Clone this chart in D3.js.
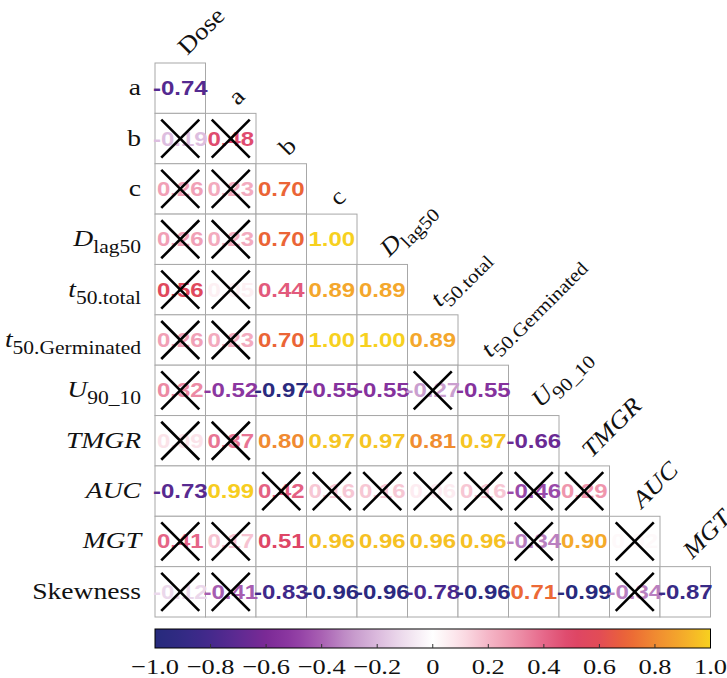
<!DOCTYPE html>
<html>
<head>
<meta charset="utf-8">
<script src="https://cdn.jsdelivr.net/npm/d3@7"></script>
<style>
  html, body { margin: 0; padding: 0; background: #fff; }
  svg { display: block; }
</style>
</head>
<body>
<svg id="chart" width="727" height="678"></svg>
<script>
// Variables of the lower-triangular correlation matrix
const rowVars = ["a", "b", "c", "Dlag50", "t50.total", "t50.Germinated", "U90_10", "TMGR", "AUC", "MGT", "Skewness"];
const colVars = ["Dose", "a", "b", "c", "Dlag50", "t50.total", "t50.Germinated", "U90_10", "TMGR", "AUC", "MGT"];

// Correlation coefficients, one array per row (columns Dose ... up to the diagonal)
const corrA        = [-0.74];
const corrB        = [-0.19, 0.48];
const corrC        = [0.26, 0.23, 0.70];
const corrDlag     = [0.26, 0.23, 0.70, 1.00];
const corrT50Tot   = [0.56, 0.05, 0.44, 0.89, 0.89];
const corrT50Germ  = [0.26, 0.23, 0.70, 1.00, 1.00, 0.89];
const corrU        = [0.32, -0.52, -0.97, -0.55, -0.55, -0.27, -0.55];
const corrTMGR     = [0.09, 0.37, 0.80, 0.97, 0.97, 0.81, 0.97, -0.66];
const corrAUC      = [-0.73, 0.99, 0.42, 0.16, 0.16, 0.06, 0.16, -0.46, 0.29];
const corrMGT      = [0.41, 0.17, 0.51, 0.96, 0.96, 0.96, 0.96, -0.34, 0.90, 0.02];
const corrSkew     = [-0.12, -0.41, -0.83, -0.96, -0.96, -0.78, -0.96, 0.71, -0.99, -0.34, -0.87];

// 1 = not significant (crossed out)
const nsA       = [0];
const nsB       = [1, 1];
const nsC       = [1, 1, 0];
const nsDlag    = [1, 1, 0, 0];
const nsT50Tot  = [1, 1, 0, 0, 0];
const nsT50Germ = [1, 1, 0, 0, 0, 0];
const nsU       = [1, 0, 0, 0, 0, 1, 0];
const nsTMGR    = [1, 1, 0, 0, 0, 0, 0, 0];
const nsAUC     = [0, 0, 1, 1, 1, 1, 1, 1, 1];
const nsMGT     = [1, 1, 0, 0, 0, 0, 0, 1, 0, 1];
const nsSkew    = [1, 1, 0, 0, 0, 0, 0, 0, 0, 1, 0];

const corrRows = [corrA, corrB, corrC, corrDlag, corrT50Tot, corrT50Germ, corrU, corrTMGR, corrAUC, corrMGT, corrSkew];
const nsRows   = [nsA, nsB, nsC, nsDlag, nsT50Tot, nsT50Germ, nsU, nsTMGR, nsAUC, nsMGT, nsSkew];

const legendTicks = [-1.0, -0.8, -0.6, -0.4, -0.2, 0, 0.2, 0.4, 0.6, 0.8, 1.0];

// Label markup: base text, italic flag, subscript
const labelParts = {
  "Dose": { base: "Dose", italic: false, sub: "" },
  "a": { base: "a", italic: false, sub: "" },
  "b": { base: "b", italic: false, sub: "" },
  "c": { base: "c", italic: false, sub: "" },
  "Dlag50": { base: "D", italic: true, sub: "lag50" },
  "t50.total": { base: "t", italic: true, sub: "50.total" },
  "t50.Germinated": { base: "t", italic: true, sub: "50.Germinated" },
  "U90_10": { base: "U", italic: true, sub: "90_10" },
  "TMGR": { base: "TMGR", italic: true, sub: "" },
  "AUC": { base: "AUC", italic: true, sub: "" },
  "MGT": { base: "MGT", italic: true, sub: "" },
  "Skewness": { base: "Skewness", italic: false, sub: "" }
};

const cells = [];
corrRows.forEach((vals, i) => {
  vals.forEach((v, j) => {
    cells.push({ row: rowVars[i], col: colVars[j], value: v, ns: nsRows[i][j] === 1 });
  });
});

const svg = d3.select("#chart");
const stretch = 1.2;

const x = d3.scaleBand().domain(colVars).range([155, 710.5]);
const y = d3.scaleBand().domain(rowVars).range([63, 617]);

const color = d3.scaleLinear()
  .domain([-1, -0.9, -0.8, -0.7, -0.6, -0.5, -0.4, -0.3, -0.2, -0.1, 0, 0.1, 0.2, 0.3, 0.4, 0.5, 0.6, 0.7, 0.8, 0.9, 1])
  .range(["#262a7c", "#322a84", "#45298c", "#5e2a92", "#7b2a96", "#8f3aa3", "#a961b3", "#c394c9", "#dbbadd", "#efdfee", "#ffffff",
          "#fbe0e7", "#f5b6c7", "#ee92aa", "#e6688a", "#dd4568", "#e24c56", "#eb6536", "#f08a31", "#f4aa2b", "#f7d11f"])
  .interpolate(d3.interpolateRgb);

// Grid cells
svg.append("g")
  .selectAll("rect")
  .data(cells)
  .join("rect")
  .attr("x", d => x(d.col))
  .attr("y", d => y(d.row))
  .attr("width", x.bandwidth())
  .attr("height", y.bandwidth())
  .attr("fill", "#fff")
  .attr("stroke", "#a8a8a8")
  .attr("stroke-width", 1);

// Coefficient text
svg.append("g")
  .selectAll("text")
  .data(cells)
  .join("text")
  .attr("transform", d => `translate(${x(d.col) + x.bandwidth() / 2},${y(d.row) + y.bandwidth() / 2 + 7}) scale(${stretch},1)`)
  .attr("text-anchor", "middle")
  .attr("font-family", "Liberation Sans, Arial, sans-serif")
  .attr("font-weight", "bold")
  .attr("font-size", 20)
  .attr("fill", d => color(d.value))
  .text(d => d.value.toFixed(2));

// Crosses for non-significant coefficients
const half = 19;
const crosses = svg.append("g")
  .selectAll("g")
  .data(cells.filter(d => d.ns))
  .join("g")
  .attr("transform", d => `translate(${x(d.col) + x.bandwidth() / 2},${y(d.row) + y.bandwidth() / 2})`);
crosses.append("line").attr("x1", -half).attr("y1", -half).attr("x2", half).attr("y2", half);
crosses.append("line").attr("x1", -half).attr("y1", half).attr("x2", half).attr("y2", -half);
crosses.selectAll("line").attr("stroke", "#000").attr("stroke-width", 2.6);

function writeLabel(sel, name, size) {
  const p = labelParts[name];
  sel.append("tspan")
    .attr("font-style", p.italic ? "italic" : "normal")
    .text(p.base);
  if (p.sub) {
    sel.append("tspan")
      .attr("font-style", "normal")
      .attr("font-size", size * 0.78)
      .attr("dy", size * 0.3)
      .text(p.sub);
  }
}

// Row labels
svg.append("g")
  .selectAll("text")
  .data(rowVars)
  .join("text")
  .attr("transform", d => `translate(141,${y(d) + y.bandwidth() / 2 + 7}) scale(${stretch},1)`)
  .attr("text-anchor", "end")
  .attr("font-family", "Liberation Serif, Times New Roman, serif")
  .attr("font-size", 23)
  .attr("fill", "#111")
  .each(function (d) { writeLabel(d3.select(this), d, 23); });

// Column labels, rotated above the diagonal
svg.append("g")
  .selectAll("text")
  .data(colVars)
  .join("text")
  .attr("transform", (d, i) => `translate(${x(d) + x.bandwidth() / 2 + 7},${y(rowVars[i]) - 7}) rotate(-45) scale(1.12,1)`)
  .attr("text-anchor", "start")
  .attr("font-family", "Liberation Serif, Times New Roman, serif")
  .attr("font-size", 24)
  .attr("fill", "#111")
  .each(function (d) { writeLabel(d3.select(this), d, 24); });

// Colour legend
const barTop = 629, barH = 19;
const lx = d3.scaleLinear().domain([-1, 1]).range([155, 710.5]);
const defs = svg.append("defs");
const grad = defs.append("linearGradient").attr("id", "corrGrad").attr("x1", "0%").attr("x2", "100%");
d3.range(0, 1.0001, 0.02).forEach(t => {
  grad.append("stop").attr("offset", `${t * 100}%`).attr("stop-color", color(-1 + 2 * t));
});
svg.append("rect")
  .attr("x", lx(-1)).attr("y", barTop)
  .attr("width", lx(1) - lx(-1)).attr("height", barH)
  .attr("fill", "url(#corrGrad)")
  .attr("stroke", "#000").attr("stroke-width", 1);

svg.append("g")
  .selectAll("line")
  .data(legendTicks.slice(1, -1))
  .join("line")
  .attr("x1", d => lx(d)).attr("x2", d => lx(d))
  .attr("y1", barTop + barH).attr("y2", barTop + barH - 4)
  .attr("stroke", "#333").attr("stroke-width", 1);

svg.append("g")
  .selectAll("text")
  .data(legendTicks)
  .join("text")
  .attr("transform", d => `translate(${lx(d)},674) scale(${stretch},1)`)
  .attr("text-anchor", "middle")
  .attr("font-family", "Liberation Serif, Times New Roman, serif")
  .attr("font-size", 22)
  .attr("fill", "#111")
  .text(d => d === 0 ? "0" : (d < 0 ? "\u2212" : "") + Math.abs(d).toFixed(1));
</script>
</body>
</html>
